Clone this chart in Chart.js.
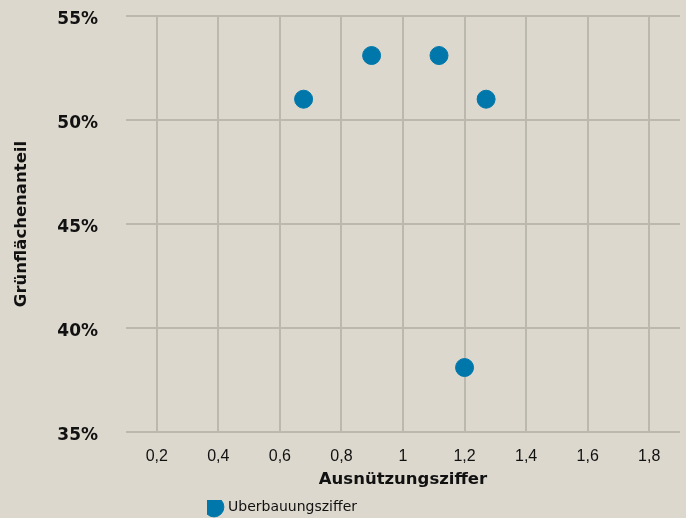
<!DOCTYPE html>
<html>
<head>
<meta charset="utf-8">
<script src="https://cdn.jsdelivr.net/npm/chart.js@4.4.1/dist/chart.umd.min.js"></script>
<style>
html,body{margin:0;padding:0;background:#dcd8ce;}
#wrap{width:686px;height:518px;}
</style>
</head>
<body>
<div id="wrap"><canvas id="c" width="686" height="518"></canvas></div>
<script>
const seriesName = "Überbauungsziffer";
const xValues = [0.677, 0.898, 1.117, 1.27, 1.2];
const yValues = [51.0, 53.1, 53.1, 51.0, 38.1];
const xTicks = [0.2, 0.4, 0.6, 0.8, 1.0, 1.2, 1.4, 1.6, 1.8];
const yTicks = [35, 40, 45, 50, 55];
const xTitle = "Ausnützungsziffer";
const yTitle = "Grünflächenanteil";

const SANS = "'Liberation Sans', Arial, sans-serif";
const WIDE = "'DejaVu Sans', sans-serif";
const GRID = "#bbb8ad";
const BLUE = "#0077aa";

const legendShift = {
  id: 'legendShift',
  afterLayout(chart) {
    const lg = chart.legend;
    if (lg) { lg.left = 207; lg.top += 8; lg.bottom += 8; }
  }
};

new Chart(document.getElementById('c'), {
  type: 'scatter',
  data: {
    datasets: [{
      label: seriesName,
      data: xValues.map((x, i) => ({x: x, y: yValues[i]})),
      backgroundColor: BLUE,
      borderColor: BLUE,
      borderWidth: 1,
      pointRadius: 9,
      pointHoverRadius: 9
    }]
  },
  options: {
    responsive: false,
    animation: false,
    layout: {autoPadding: false, padding: {left: 12, right: 6, top: 16, bottom: 2}},
    plugins: {
      legend: {
        position: 'bottom',
        align: 'start',
        labels: {
          usePointStyle: true,
          pointStyle: 'circle',
          boxWidth: 18,
          boxHeight: 18,
          color: '#111',
          font: {family: WIDE, size: 14},
          padding: 0
        }
      },
      tooltip: {enabled: false}
    },
    scales: {
      x: {
        type: 'linear',
        min: 0.1,
        max: 1.9,
        afterBuildTicks(scale) { scale.ticks = xTicks.map(v => ({value: v})); },
        afterFit(scale) { scale.paddingLeft = 0; scale.paddingRight = 0; },
        grid: {color: GRID, lineWidth: 2, drawTicks: true, tickLength: 13, tickColor: 'rgba(0,0,0,0)'},
        border: {display: false},
        ticks: {
          color: '#111',
          font: {family: SANS, size: 16},
          padding: 2,
          maxRotation: 0,
          callback: v => String(Math.round(v * 10) / 10).replace('.', ',')
        },
        title: {
          display: true,
          text: xTitle,
          color: '#111',
          font: {family: WIDE, size: 16.5, weight: 'bold'},
          padding: {top: 1.5, bottom: 2.5}
        }
      },
      y: {
        type: 'linear',
        min: 35,
        max: 55,
        afterBuildTicks(scale) { scale.ticks = yTicks.map(v => ({value: v})); },
        afterFit(scale) { scale.paddingTop = 0; scale.paddingBottom = 0; },
        grid: {color: GRID, lineWidth: 2, drawTicks: true, tickLength: 26, tickColor: 'rgba(0,0,0,0)'},
        border: {display: false},
        ticks: {
          color: '#111',
          font: {family: WIDE, size: 17, weight: 'bold'},
          padding: 2,
          labelOffset: 4,
          callback: v => v + '%'
        },
        title: {
          display: true,
          text: yTitle,
          color: '#111',
          font: {family: WIDE, size: 16.5, weight: 'bold'},
          padding: {top: 0, bottom: 23.5}
        }
      }
    }
  },
  plugins: [legendShift]
});
</script>
</body>
</html>
